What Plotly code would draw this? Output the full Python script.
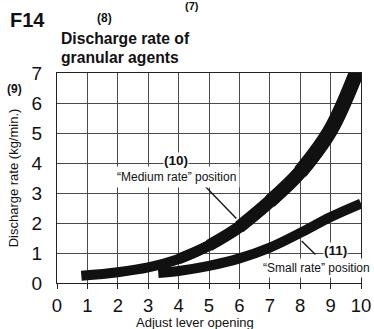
import plotly.graph_objects as go

# Discharge-rate curves for granular agents (rate in kg/min vs. lever opening)
lever_medium = [0.8, 2, 3, 4, 5, 6, 7, 8, 9, 10]
rate_medium = [0.24, 0.36, 0.52, 0.8, 1.25, 1.87, 2.72, 3.7, 5.1, 7.4]

lever_small = [3.33, 4, 5, 6, 7, 8, 9, 10]
rate_small = [0.33, 0.4, 0.57, 0.82, 1.18, 1.67, 2.2, 2.65]

x_ticks = list(range(0, 11))
y_ticks = list(range(0, 8))

FONT = "Liberation Sans, Arial, Helvetica, sans-serif"
INK = "#111111"

fig = go.Figure()


def curve(xs, ys, width):
    fig.add_trace(go.Scatter(x=xs, y=ys, mode="lines",
                             line=dict(color=INK, width=width, shape="spline", smoothing=1),
                             hoverinfo="skip", showlegend=False))


# medium-rate curve: the stroke gets gradually heavier toward the top
curve(lever_medium, rate_medium, 10)
for start, width in [(3, 11), (4, 12), (5, 13), (6, 14), (7, 15)]:
    curve(lever_medium[start:], rate_medium[start:], width)

# small-rate curve
curve(lever_small, rate_small, 10)

# leader lines from the labels to the curves
fig.add_shape(type="line", xref="x", yref="y", x0=4.85, y0=3.25, x1=5.9, y1=2.15,
              line=dict(color=INK, width=1.3), layer="above")
fig.add_shape(type="line", xref="x", yref="y", x0=8.05, y0=1.4, x1=8.5, y1=0.95,
              line=dict(color=INK, width=1.3), layer="above")

# curve labels (white boxes mask the grid behind them)
fig.add_annotation(x=3.92, y=3.52, xref="x", yref="y", showarrow=False,
                   text="“Medium rate” position", bgcolor="white", borderpad=3,
                   font=dict(family=FONT, size=12, color=INK))
fig.add_annotation(x=3.92, y=4.07, xref="x", yref="y", showarrow=False,
                   text="<b>(10)</b>", bgcolor="white", borderpad=0,
                   font=dict(family=FONT, size=13.5, color=INK))
fig.add_annotation(x=8.55, y=0.5, xref="x", yref="y", showarrow=False,
                   text="“Small rate” position", bgcolor="white", borderpad=2,
                   font=dict(family=FONT, size=12, color=INK))
fig.add_annotation(x=9.15, y=1.1, xref="x", yref="y", showarrow=False,
                   text="<b>(11)</b>", bgcolor="white", borderpad=0,
                   font=dict(family=FONT, size=13.5, color=INK))

# headings, callout numbers and the lever-axis caption
W, H, L, T = 304, 210, 57, 73


def px(xp, yp):
    return (xp - L) / W, (T + H - yp) / H


for text, (xp, yp), size, anchor in [
    ("<b>F14</b>", (8, 20), 20, "left"),
    ("<b>(8)</b>", (104, 18), 12, "center"),
    ("<b>(7)</b>", (192, 6), 11, "center"),
    ("<b>Discharge rate of</b>", (59, 39), 15.7, "left"),
    ("<b>granular agents</b>", (59, 57), 15.7, "left"),
    ("<b>(9)</b>", (14, 89), 12, "center"),
    ("Adjust lever opening", (195, 322), 13, "center"),
]:
    xx, yy = px(xp, yp)
    fig.add_annotation(x=xx, y=yy, xref="paper", yref="paper", showarrow=False,
                       text=text, xanchor=anchor, yanchor="middle",
                       font=dict(family=FONT, size=size, color=INK))

axis_common = dict(showgrid=True, gridcolor="#4a4a4a", gridwidth=1,
                   showline=True, linecolor="#222222", linewidth=1, mirror=True,
                   zeroline=False, automargin=False,
                   title_font=dict(family=FONT, size=13, color=INK))

fig.update_layout(
    width=374, height=329,
    margin=dict(l=L, r=374 - L - W, t=T, b=329 - T - H),
    paper_bgcolor="white", plot_bgcolor="white",
    xaxis=dict(range=[0, 10], tickvals=x_ticks, ticks="outside", ticklen=5,
               tickcolor="#222222", ticklabelstandoff=1,
               tickfont=dict(family=FONT, size=18.5, color=INK), **axis_common),
    yaxis=dict(range=[0, 7], tickvals=y_ticks, ticks="", ticklabelstandoff=10,
               tickfont=dict(family=FONT, size=19, color=INK),
               title=dict(text="Discharge rate (kg/min.)", standoff=10), **axis_common),
)

fig.write_html("out.html")
